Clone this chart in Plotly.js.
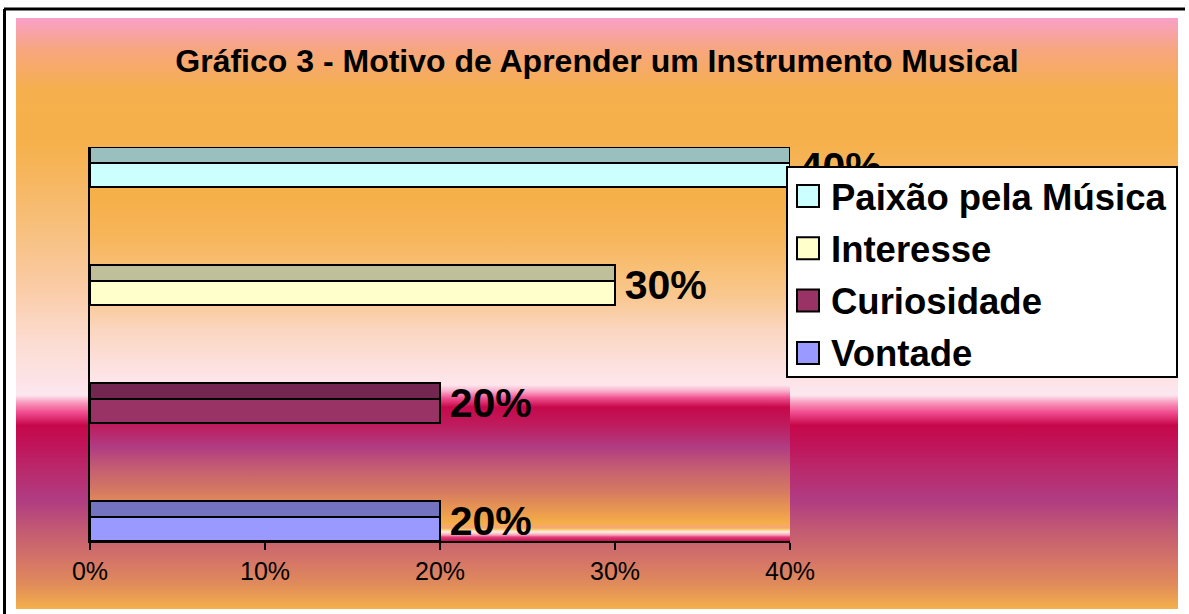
<!DOCTYPE html>
<html>
<head>
<meta charset="utf-8">
<script src="https://cdn.plot.ly/plotly-3.0.1.min.js"></script>
<style>
  html, body { margin: 0; padding: 0; background: #ffffff; overflow: hidden; }
  #chart { width: 1189px; height: 614px; }
</style>
</head>
<body>
<div id="chart"></div>
<script>
// ---------------- data ----------------
const categories = ['Vontade', 'Curiosidade', 'Interesse', 'Paixão pela Música']; // bottom -> top
const values = [0.20, 0.20, 0.30, 0.40];
const valueLabels = ['20%', '20%', '30%', '40%'];
const tickVals = [0, 0.1, 0.2, 0.3, 0.4];
const tickText = ['0%', '10%', '20%', '30%', '40%'];
const titleText = 'Gráfico 3 - Motivo de Aprender um Instrumento Musical';

// ---------------- styles ----------------
const frontColors = ['#9999FF', '#993366', '#FFFFCC', '#CCFFFF'];
const topColors   = ['#7373BF', '#732650', '#BFBF99', '#99BFBF'];
const FONT = 'Liberation Sans, Arial, sans-serif';

const W = 1189, H = 614;
const M = { l: 90, r: 399, t: 147, b: 73 };
const PW = W - M.l - M.r, PH = H - M.t - M.b;
const px2x = p => (p - M.l) / PW;
const px2y = p => (H - M.b - p) / PH;

// category step = 118 px; 3D bar: top face 16px, front face 24px
const STEP = 118;
const yRange = [-20 / STEP, (categories.length - 1) + 20 / STEP];
const labelShift = 4 / STEP; // vertical centring of the data labels on the 3D bar

function gradSVG(stops) {
  const s = stops.map(st => `<stop offset="${st[0]}" stop-color="${st[1]}"/>`).join('');
  const svg = `<svg xmlns="http://www.w3.org/2000/svg" width="100" height="100" viewBox="0 0 100 100" preserveAspectRatio="none"><defs><linearGradient id="g" x1="0" y1="0" x2="0" y2="1">${s}</linearGradient></defs><rect x="0" y="0" width="100" height="100" fill="url(#g)"/></svg>`;
  return 'data:image/svg+xml;charset=utf-8,' + encodeURIComponent(svg);
}

const outerStops = [
  [0, '#F9A0C8'], [0.054, '#F7A67E'], [0.122, '#F5AF4C'], [0.206, '#F6B04A'],
  [0.342, '#F7BE78'], [0.460, '#FACCA8'], [0.545, '#FCDCD0'], [0.621, '#FDE4EA'],
  [0.638, '#FCE8F0'], [0.651, '#F898BC'], [0.668, '#F04A8E'], [0.689, '#C6084A'],
  [0.723, '#C0145A'], [0.765, '#B92A6C'], [0.816, '#B03C82'], [0.866, '#C25A72'],
  [0.917, '#D47468'], [0.959, '#E08C5A'], [1, '#F5B04A']
];
const plotStops = [
  [0, '#F6B04A'], [0.135, '#F6B04A'], [0.236, '#F7B65C'], [0.381, '#F9C890'],
  [0.464, '#FBD6C0'], [0.548, '#FCE0DC'], [0.604, '#FDE6EC'], [0.619, '#FAB0CC'],
  [0.637, '#F0508E'], [0.660, '#C6084A'], [0.706, '#BE1C5E'], [0.761, '#B03C82'],
  [0.820, '#C66070'], [0.871, '#D47862'], [0.934, '#EEA04C'], [0.959, '#F5B04A'],
  [0.962, '#F8A090'], [0.967, '#F5B04A'], [0.977, '#FDF0E0'], [0.985, '#F8A0B8'],
  [0.990, '#E0407A'], [1, '#C8104E']
];

// ---------------- traces ----------------
const traces = [];
categories.forEach((name, i) => {
  // front face
  traces.push({
    type: 'bar', orientation: 'h', name: name,
    x: [values[i]], y: [i],
    width: 24 / STEP, offset: -20 / STEP,
    marker: { color: frontColors[i], line: { color: '#000000', width: 2 } },
    showlegend: false, hoverinfo: 'skip'
  });
  // top (depth) face
  traces.push({
    type: 'bar', orientation: 'h', name: name + ' (topo)',
    x: [values[i]], y: [i],
    width: 16 / STEP, offset: 4 / STEP,
    marker: { color: topColors[i], line: { color: '#000000', width: 2 } },
    showlegend: false, hoverinfo: 'skip'
  });
});
// data labels
traces.push({
  type: 'scatter', mode: 'markers+text', yaxis: 'y2',
  x: values, y: categories.map((c, i) => i),
  text: valueLabels, textposition: 'middle right',
  textfont: { family: FONT, size: 41, color: '#000000', weight: 'bold' },
  marker: { size: 14, color: 'rgba(0,0,0,0)' },
  cliponaxis: false, showlegend: false, hoverinfo: 'skip'
});

// ---------------- legend (custom) ----------------
const shapes = [];
const annotations = [];
const legTop = 167, legBot = 377, legL = 787, legR = 1177;
shapes.push({
  type: 'rect', xref: 'paper', yref: 'paper', layer: 'above',
  x0: px2x(legL), x1: px2x(legR), y0: px2y(legBot), y1: px2y(legTop),
  fillcolor: '#FFFFFF', line: { color: '#000000', width: 2 }
});
const legOrder = categories.map((c, i) => i).reverse();
legOrder.forEach((ci, row) => {
  const cy = 196 + row * 52.3;
  shapes.push({
    type: 'rect', xref: 'paper', yref: 'paper', layer: 'above',
    x0: px2x(797), x1: px2x(819), y0: px2y(cy + 11), y1: px2y(cy - 11),
    fillcolor: frontColors[ci], line: { color: '#000000', width: 2 }
  });
  annotations.push({
    xref: 'paper', yref: 'paper', x: px2x(829), y: px2y(cy + 1),
    xanchor: 'left', yanchor: 'middle', showarrow: false,
    text: categories[ci],
    font: { family: FONT, size: 36.5, color: '#000000', weight: 'bold' }
  });
});

// outer frame lines (top and left)
shapes.push({ type: 'line', xref: 'paper', yref: 'paper', layer: 'above',
  x0: px2x(4), x1: px2x(1185), y0: px2y(9), y1: px2y(9), line: { color: '#000000', width: 3 } });
shapes.push({ type: 'line', xref: 'paper', yref: 'paper', layer: 'above',
  x0: px2x(4.5), x1: px2x(4.5), y0: px2y(9), y1: px2y(630), line: { color: '#000000', width: 3 } });

// ---------------- layout ----------------
const layout = {
  width: W, height: H, autosize: false,
  margin: M,
  paper_bgcolor: '#FFFFFF',
  plot_bgcolor: 'rgba(0,0,0,0)',
  barmode: 'overlay',
  showlegend: false,
  hovermode: false,
  title: {
    text: titleText,
    x: 597 / W, xanchor: 'center', xref: 'container',
    y: 1 - 61 / H, yanchor: 'middle', yref: 'container',
    font: { family: FONT, size: 32, color: '#000000', weight: 'bold' }
  },
  xaxis: {
    range: [0, 0.4], tickvals: tickVals, ticktext: tickText,
    showgrid: false, zeroline: false,
    showline: true, linecolor: '#000000', linewidth: 2,
    ticks: 'outside', ticklen: 7, tickwidth: 2, tickcolor: '#000000',
    tickfont: { family: FONT, size: 25, color: '#000000' },
    fixedrange: true
  },
  yaxis: {
    range: yRange, showticklabels: false, ticks: '',
    showgrid: false, zeroline: false,
    showline: true, linecolor: '#000000', linewidth: 2,
    fixedrange: true
  },
  yaxis2: {
    overlaying: 'y', range: [yRange[0] + labelShift, yRange[1] + labelShift],
    visible: false, showgrid: false, zeroline: false, fixedrange: true
  },
  images: [
    { source: gradSVG(outerStops), xref: 'paper', yref: 'paper',
      x: px2x(16), y: px2y(18), sizex: (1178 - 16) / PW, sizey: (609 - 18) / PH,
      xanchor: 'left', yanchor: 'top', sizing: 'stretch', layer: 'below' },
    { source: gradSVG(plotStops), xref: 'paper', yref: 'paper',
      x: 0, y: 1, sizex: 1, sizey: 1,
      xanchor: 'left', yanchor: 'top', sizing: 'stretch', layer: 'below' }
  ],
  shapes: shapes,
  annotations: annotations
};

Plotly.newPlot('chart', traces, layout, { displayModeBar: false, staticPlot: true });
</script>
</body>
</html>
